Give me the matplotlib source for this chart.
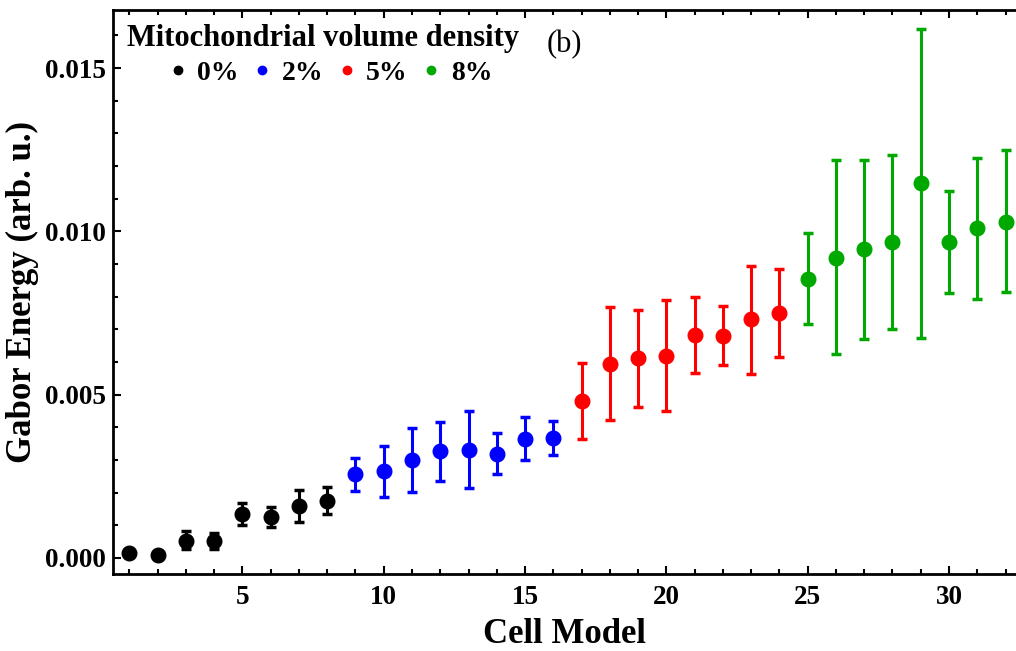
import matplotlib
matplotlib.use('Agg')
import matplotlib.pyplot as plt
from matplotlib.lines import Line2D
from matplotlib.ticker import MultipleLocator, FormatStrFormatter
import numpy as np

# Gabor energy per cell model
cell = np.arange(1, 33)
gabor = [0.00015, 0.00009, 0.00052, 0.00052, 0.00135, 0.00125, 0.00159, 0.00174,
         0.00257, 0.00266, 0.00300, 0.00327, 0.00330, 0.00318, 0.00364, 0.00367,
         0.00480, 0.00593, 0.00612, 0.00618, 0.00682, 0.00679, 0.00731, 0.00749,
         0.00853, 0.00920, 0.00945, 0.00969, 0.01147, 0.00969, 0.01009, 0.01028]
err_low = [0.00015, 0.00009, 0.00028, 0.00028, 0.00101, 0.00095, 0.00110, 0.00135,
           0.00205, 0.00187, 0.00202, 0.00235, 0.00214, 0.00257, 0.00300, 0.00315,
           0.00364, 0.00422, 0.00462, 0.00450, 0.00566, 0.00590, 0.00563, 0.00615,
           0.00716, 0.00624, 0.00670, 0.00700, 0.00673, 0.00810, 0.00792, 0.00813]
err_high = [0.00015, 0.00009, 0.00083, 0.00076, 0.00168, 0.00156, 0.00208, 0.00217,
            0.00306, 0.00342, 0.00398, 0.00416, 0.00450, 0.00382, 0.00431, 0.00419,
            0.00596, 0.00768, 0.00758, 0.00789, 0.00798, 0.00771, 0.00893, 0.00884,
            0.00994, 0.01220, 0.01220, 0.01235, 0.01621, 0.01125, 0.01226, 0.01248]

densities = ['0%', '2%', '5%', '8%']
colors = ['black', '#0000ff', '#ff0000', '#00a800']
group_size = 8

plt.rcParams['font.family'] = ['Liberation Serif', 'DejaVu Serif']
plt.rcParams['font.weight'] = 'bold'

fig = plt.figure(figsize=(10.16, 6.51), dpi=100)
ax = fig.add_axes([0.1112, 0.1183, 0.8888, 0.8663])

gabor = np.array(gabor)
lo = gabor - np.array(err_low)
hi = np.array(err_high) - gabor

for i, (lab, col) in enumerate(zip(densities, colors)):
    s = slice(i * group_size, (i + 1) * group_size)
    ax.errorbar(cell[s], gabor[s], yerr=[lo[s], hi[s]], fmt='o', color=col,
                ms=10.5, elinewidth=2.2, capsize=3.5, capthick=2.5)

ax.set_xlim(0.42, 32.37)
ax.set_ylim(-0.00049, 0.01678)

ax.xaxis.set_major_locator(MultipleLocator(5))
ax.xaxis.set_minor_locator(MultipleLocator(1))
ax.yaxis.set_major_locator(MultipleLocator(0.005))
ax.yaxis.set_minor_locator(MultipleLocator(0.001))
ax.yaxis.set_major_formatter(FormatStrFormatter('%.3f'))

ax.tick_params(which='both', direction='in', top=True, right=False, width=1.5)
ax.tick_params(which='major', length=6, labelsize=19.5, pad=5)
ax.tick_params(which='minor', length=3.5)
ax.tick_params(axis='x', which='major', pad=8)
for lbl in ax.get_xticklabels() + ax.get_yticklabels():
    lbl.set_fontweight('bold')

for side in ['left', 'bottom', 'top']:
    ax.spines[side].set_linewidth(2)
ax.spines['right'].set_visible(False)

ax.set_xlabel('Cell Model', fontsize=25, fontweight='bold', labelpad=6)
ax.set_ylabel('Gabor Energy (arb. u.)', fontsize=25, fontweight='bold', labelpad=4)

ax.text(0.016, 0.975, 'Mitochondrial volume density', transform=ax.transAxes,
        fontsize=22, fontweight='bold', va='top', ha='left')
ax.text(0.480, 0.965, '(b)', transform=ax.transAxes, fontsize=22,
        fontweight='normal', va='top', ha='left')

handles = [Line2D([], [], ls='', marker='o', ms=6, color=c) for c in colors]
leg = ax.legend(handles, densities, ncol=4, frameon=False, loc='upper left',
                bbox_to_anchor=(0.05, 0.93), prop={'size': 20, 'weight': 'bold'},
                handlelength=0.6, handletextpad=0.4, columnspacing=0.55,
                borderaxespad=0)

fig.savefig('out.png', dpi=100)
